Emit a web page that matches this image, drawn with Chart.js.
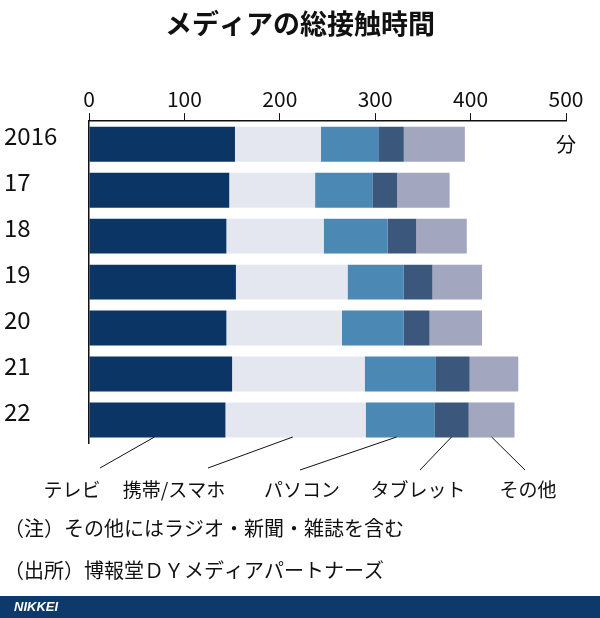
<!DOCTYPE html>
<html><head><meta charset="utf-8">
<script src="https://cdn.jsdelivr.net/npm/chart.js@4/dist/chart.umd.min.js"></script>
<style>
body{margin:0;background:#fff;}
#wrap{position:relative;width:600px;height:618px;}
</style></head>
<body><div id="wrap"><canvas id="c" width="600" height="618"></canvas></div>
<script>
const years = ["2016", "17", "18", "19", "20", "21", "22"];
const seriesNames = ["テレビ", "携帯/スマホ", "パソコン", "タブレット", "その他"];
const tv = [153, 147, 144, 154, 144, 150, 143];
const phone = [90, 90, 102, 117, 121, 139, 147];
const pc = [61, 60, 67, 59, 65, 74, 72];
const tablet = [26, 26, 30, 30, 27, 36, 36];
const other = [64, 55, 53, 52, 55, 51, 48];
const xTicks = [0, 100, 200, 300, 400, 500];
const colors = ["#0b3564", "#e4e7f0", "#4b88b3", "#3c577c", "#a2a7bf"];
const FONT = "'Noto Sans CJK JP', 'Noto Sans', sans-serif";

const overlay = {
  id: "overlay",
  afterDraw(chart) {
    const ctx = chart.ctx, x = chart.scales.x, y = chart.scales.y;
    ctx.save();
    ctx.fillStyle = "#111";
    ctx.textAlign = "center"; ctx.textBaseline = "middle";
    ctx.font = "bold 27px " + FONT;
    ctx.fillText("メディアの総接触時間", 300, 24);
    ctx.font = "24px " + FONT;
    ctx.textAlign = "left";
    years.forEach((yr, i) => ctx.fillText(yr, 4, y.getPixelForValue(i) - 8));
    ctx.font = "20px " + FONT;
    ctx.fillText("分", 556, y.getPixelForValue(0));
    // leader lines
    const last = years.length - 1;
    const base = y.getPixelForValue(last) + 17;
    const cum = [tv[last], tv[last] + phone[last], tv[last] + phone[last] + pc[last],
      tv[last] + phone[last] + pc[last] + tablet[last],
      tv[last] + phone[last] + pc[last] + tablet[last] + other[last]];
    const mids = [cum[0] * 0.48, cum[0] + phone[last] * 0.48, cum[1] + pc[last] * 0.45, cum[2] + tablet[last] * 0.5, cum[3] + other[last] * 0.5];
    const ends = [[100, 468], [208, 468], [300, 470], [420, 470], [525, 470]];
    ctx.strokeStyle = "#111"; ctx.lineWidth = 1;
    mids.forEach((m, i) => {
      ctx.beginPath();
      ctx.moveTo(x.getPixelForValue(m), base);
      ctx.lineTo(ends[i][0], ends[i][1]);
      ctx.stroke();
    });
    ctx.font = "19px " + FONT;
    ctx.textAlign = "center";
    const lx = [72, 174, 302, 418, 528];
    seriesNames.forEach((n, i) => ctx.fillText(n, lx[i], 490));
    ctx.textAlign = "left";
    ctx.font = "20px " + FONT;
    ctx.fillText("（注）その他にはラジオ・新聞・雑誌を含む", 4, 528);
    ctx.fillText("（出所）博報堂ＤＹメディアパートナーズ", 4, 570);
    ctx.fillStyle = "#0d3a6b";
    ctx.fillRect(0, 596, 600, 22);
    ctx.fillStyle = "#fff";
    ctx.font = "italic bold 13px 'Liberation Sans', sans-serif";
    ctx.fillText("NIKKEI", 14, 607);
    ctx.restore();
  }
};

const data = [tv, phone, pc, tablet, other];
new Chart(document.getElementById("c"), {
  type: "bar",
  data: {
    labels: years,
    datasets: seriesNames.map((n, i) => ({
      label: n, data: data[i], backgroundColor: colors[i],
      borderWidth: 0, barPercentage: 0.76, categoryPercentage: 1
    }))
  },
  options: {
    indexAxis: "y",
    responsive: false,
    animation: false,
    layout: { padding: { left: 81, right: 34, top: 84, bottom: 175 } },
    plugins: { legend: { display: false }, tooltip: { enabled: false } },
    scales: {
      x: {
        position: "top", stacked: true, min: 0, max: 500,
        afterBuildTicks: s => { s.ticks = xTicks.map(v => ({ value: v })); },
        grid: { drawOnChartArea: false, tickLength: 8, color: "#111" },
        border: { color: "#111", width: 1.5 },
        ticks: { color: "#111", font: { size: 21, family: FONT }, padding: 2 }
      },
      y: {
        stacked: true,
        grid: { display: false },
        border: { color: "#111", width: 1.5 },
        ticks: { display: false }
      }
    }
  },
  plugins: [overlay]
});
</script></body></html>
